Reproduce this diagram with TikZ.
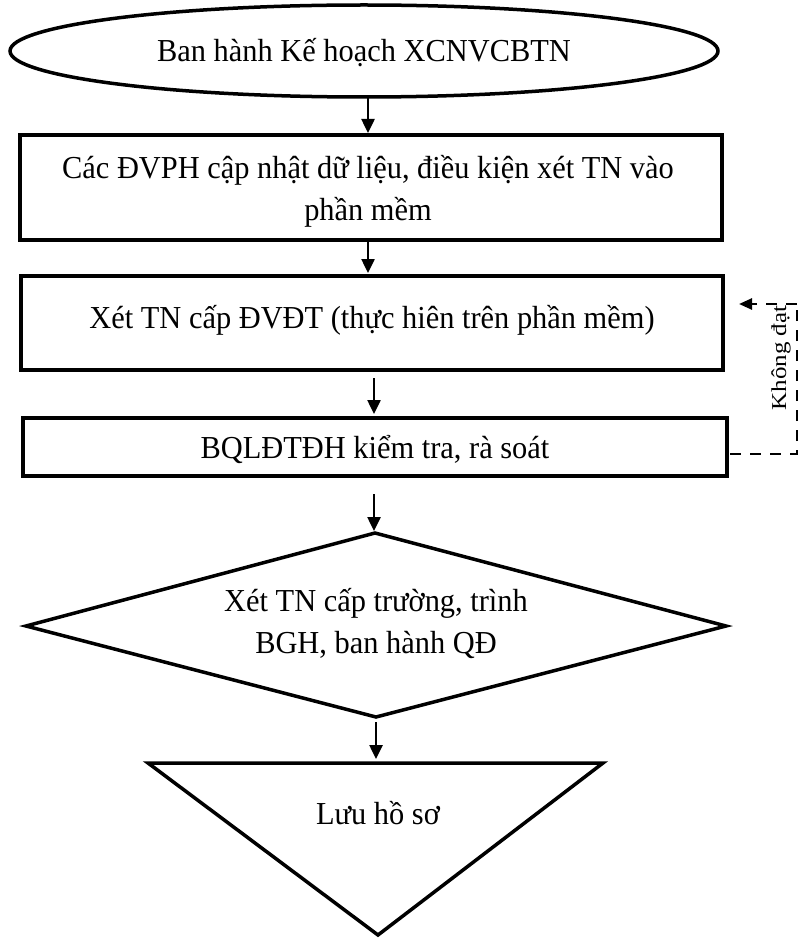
\documentclass[tikz,border=0pt]{standalone}
\usepackage{fontspec}
\setmainfont{Liberation Serif}[FakeStretch=0.95]
\newfontfamily\plainfont{Liberation Serif}
\usetikzlibrary{shapes.geometric,arrows.meta,calc}
\begin{document}
\begin{tikzpicture}[x=1pt,y=-1pt,
  shp/.style={draw,line width=3.5pt,inner sep=0pt,font=\fontsize{32}{42}\selectfont,align=center},
  txt/.style={inner sep=0pt,font=\fontsize{32}{42}\selectfont,align=center},
  arr/.style={line width=2.5pt,-{Triangle[length=14pt,width=13pt]}},
  fb/.style={line width=2.5pt,dash pattern=on 11pt off 9pt}]
\useasboundingbox (0,0) rectangle (799,944);
\node[shp,ellipse,minimum width=708pt,minimum height=92pt] (ell) at (364,51) {};
\node[txt] (ellt) at (364,53) {Ban hành Kế hoạch XCNVCBTN};
\node[shp,rectangle,minimum width=702pt,minimum height=105pt] (b1) at (371,187.5) {};
\node[txt] (b1t) at (368,191) {Các ĐVPH cập nhật dữ liệu, điều kiện xét TN vào\\phần mềm};
\node[shp,rectangle,minimum width=702pt,minimum height=94pt] (b2) at (372,323) {};
\node[txt] (b2t) at (372,320) {Xét TN cấp ĐVĐT (thực hiên trên phần mềm)};
\node[shp,rectangle,minimum width=704pt,minimum height=58pt] (b3) at (375,447) {};
\node[txt] (b3t) at (375,449) {BQLĐTĐH kiểm tra, rà soát};
\coordinate (dl) at (26,626);
\coordinate (dt) at (375,533);
\coordinate (dr) at (726,626);
\coordinate (db) at (376,717);
\draw[line width=3.5pt,line join=miter] (dl) -- (dt) -- (dr) -- (db) -- cycle;
\node[txt] (dia) at (376,624) {Xét TN cấp trường, trình\\BGH, ban hành QĐ};
\coordinate (t1) at (148,763);
\coordinate (t2) at (603,763);
\coordinate (t3) at (378,935);
\draw[line width=3.5pt,line join=miter] (t1) -- (t2) -- (t3) -- cycle;
\node[txt] (tri) at (378,813) {Lưu hồ sơ};
\coordinate (a4s) at (374,494);
\coordinate (a4e) at (374,531);
\draw[arr] (368,97) -- (368,133);
\draw[arr] (368,241) -- (368,273);
\draw[arr] (374,378) -- (374,414);
\draw[arr] (a4s) -- (a4e);
\draw[arr] (376,722) -- (376,759);
\coordinate (fb1) at (730,454);
\coordinate (fb2) at (797,454);
\coordinate (fb3) at (797,304);
\coordinate (fb4) at (739,304);
\draw[fb] (fb1) -- (fb2) -- (fb3);
\draw[fb,-{Triangle[length=13pt,width=11pt]}] (fb3) -- (fb4);
\node[rotate=90,inner sep=0pt,font=\plainfont\fontsize{25}{28}\selectfont] (kd) at (781,358) {\scalebox{1}[0.85]{Không đạt}};
\end{tikzpicture}
\end{document}
